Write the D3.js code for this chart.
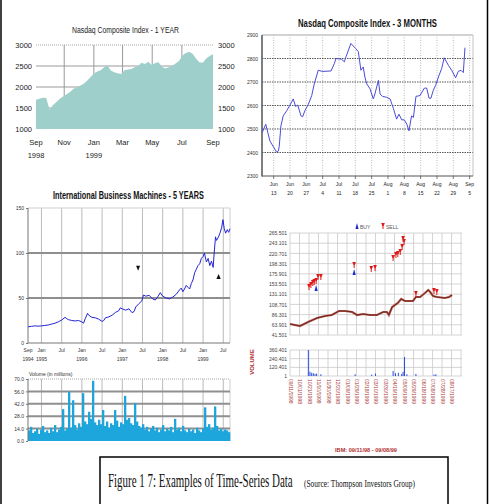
<!DOCTYPE html>
<html>
<head>
<meta charset="utf-8">
<script src="https://cdn.jsdelivr.net/npm/d3@7"></script>
<style>
  body { margin: 0; background: #fff; }
  svg { display: block; font-family: "Liberation Sans", Arial, sans-serif; }
</style>
</head>
<body>
<svg id="chart" width="490" height="504"></svg>
<script>
// ---------- data: Nasdaq 1 year (weekly closes from Sep 4 1998) ----------
const nasdaq1yValues = [1695,1720,1745,1740,1460,1570,1640,1720,1775,1830,1880,1960,1990,2030,2080,2150,2230,2320,2370,2400,2470,2510,2390,2350,2330,2310,2400,2415,2430,2470,2500,2580,2550,2600,2525,2570,2590,2480,2440,2470,2500,2560,2620,2750,2810,2840,2790,2680,2590,2580,2680,2740,2780];
const nasdaq1yTicks = [3000, 2500, 2000, 1500, 1000];
const nasdaq1yMonthDates = ["1998-09-04","1998-11-01","1999-01-01","1999-03-01","1999-05-01","1999-07-01","1999-09-03"];
const nasdaq1yMonthLabels = ["Sep","Nov","Jan","Mar","May","Jul","Sep"];
const nasdaq1yYearLabels = ["1998","","1999","","","",""];

// ---------- data: Nasdaq 3 months (days after Jun 8 1999) ----------
const nasdaq3mDay = [0.1,1.6,3.4,6.3,7.0,7.4,8.1,9.1,10.6,12,13.4,14.4,15.3,16.7,17.4,18.4,19.9,21.3,22.4,24.1,25.9,29.6,31,31.7,34.1,35.3,36,38.1,40.1,41.3,42.4,43.4,44.1,44.9,46.3,47.7,48.4,49.9,50.6,51.6,53.4,54.9,56.3,57.7,58.7,59.9,61,62.1,63,64.1,64.9,66,67.7,68.4,69.6,70.6,71.6,72.4,73.4,74.4,75.6,77,78.1,79.9,81.3,83,84.1,85.3,86.3,87];
const nasdaq3mValue = [2485,2520,2449,2401,2406,2427,2513,2556,2578,2602,2628,2596,2602,2556,2552,2578,2606,2642,2692,2750,2745,2747,2778,2800,2797,2786,2807,2864,2843,2829,2750,2764,2721,2692,2671,2628,2649,2707,2649,2639,2635,2628,2588,2542,2563,2539,2539,2520,2492,2556,2549,2639,2642,2654,2674,2674,2631,2631,2664,2685,2721,2757,2803,2771,2750,2718,2745,2750,2740,2846];
const nasdaq3mTicks = [2900, 2800, 2700, 2600, 2500, 2400, 2300];
const nasdaq3mTickDay = [5,12,19,26,33,40,47,54,61,68,75,82,89];
const nasdaq3mTickMonth = ["Jun","Jun","Jun","Jul","Jul","Jul","Jul","Aug","Aug","Aug","Aug","Aug","Sep"];
const nasdaq3mTickDate = ["13","20","27","4","11","18","25","1","8","15","22","29","5"];

// ---------- data: IBM 5 years (months after Sep 1994) ----------
const ibmMonth = [0,1,2,3,4,5,6,7,8,9,10,11,11.5,12,13,14,15,16,16.5,17,17.7,18,19,20,21,22,22.5,23,24,25,26,27,27.4,28,29,30,30.9,31.5,32,33,33.8,34.3,35,36,37,37.8,38.5,39.3,40,41,42,43,44,45,45.5,46,46.5,47,47.5,48,48.5,49,49.5,50,50.5,51,51.5,52,52.4,52.8,53,53.5,54,54.5,55,55.3,55.7,56,56.5,57,57.5,57.9,58.3,58.7,59.2,59.6,60];
const ibmPrice = [18,18.5,19,18.7,19,19.5,20,21,22,23.5,25.5,28.5,27,26,25,24.5,25,23.5,22,27,33,31,28.5,28,26.5,24,25,28,29,31,34,36,39,38,36.5,38,33.7,35,40,44,46.7,53.3,52,53,49,47.8,51,56,52,50,49,51,54,59,61,57,60,64,62,60,66,70,78,82,86,88,94,96,100,93,90,94,86,91,84,100,118,114,117,122,128,137,127,122,126,123,127];
const ibmPriceTicks = [150, 100, 50, 0];
const ibmTickMonth = [0,4,10,16,22,28,34,40,46,52,58];
const ibmTickLabel = ["Sep","Jan","Jul","Jan","Jul","Jan","Jul","Jan","Jul","Jan","Jul"];
const ibmTickYear = ["1994","1995","","1996","","1997","","1998","","1999",""];
const ibmSignalMonth = [32.7, 56.6];
const ibmSignalPrice = [83, 74];
const ibmSignalType = ["down", "up"];

// ---------- data: IBM volume (millions) ----------
const ibmVolume = [12,16,9,11,14,8,13,17,10,12,9,15,11,18,10,13,16,36,12,14,56,15,46,18,13,20,16,54,22,19,33,25,68,21,18,24,19,35,17,22,15,20,18,35,23,16,21,19,51,24,26,20,18,43,22,17,15,19,13,16,11,14,17,12,15,10,13,18,11,14,12,16,10,25,13,15,11,17,12,10,14,11,13,9,15,12,10,14,38,16,19,13,15,39,17,12,14,11,13,12,10];
const ibmVolumeTicks = [70, 56, 42, 28, 14, 0];

// ---------- data: IBM 1 year with signals (days after Sep 11 1998) ----------
const ibm1yDay = [0,21,38,57,74,88,103,116,131,141,154,168,183,196,204,208,215,227,234,242,259,265,274,284,291,295,301,309,326,335,341];
const ibm1yClose = [65.7,61.3,70,78.8,83.2,85.4,94.2,94.2,92,85.4,87.6,85.4,85.4,92,92,85.4,103,111.8,120.6,116.2,116.2,125,125,133.7,140.3,135.9,127.2,125,122.8,125,129.3];
const sellDay = [40,44,48,51,55,59,65,135,171,179,217,223,227,232,236,238,240,265,303,309];
const sellPrice = [146.9,151.3,155.7,157.9,160.1,168.9,168.9,195.2,186.4,188.6,210.6,217.2,219.4,223.8,234.7,252.3,245.7,131.5,138.1,135.9];
const buyDay = [55,135];
const buyPrice = [144.7,179.8];
const ibm1yTicks = [41.501,63.901,86.301,108.701,131.101,153.501,175.901,198.301,220.701,243.101,265.501];
const ibm1yTickDay = [0,20,40,60,80,100,120,140,160,180,200,220,240,260,280,300,320,340];
const ibm1yTickLabel = ["09/11/1998","10/01/1998","10/21/1998","11/10/1998","11/30/1998","12/20/1998","01/09/1999","01/29/1999","02/18/1999","03/10/1999","03/30/1999","04/19/1999","05/09/1999","05/29/1999","06/18/1999","07/08/1999","07/28/1999","08/17/1999"];
const ibm1yVolDay = [38.6,42,45.6,49,52.6,56,65,137,172,180,217,222,228,235,238,241,246,265,303,307];
const ibm1yVolume = [360,60,45,40,30,35,25,25,20,35,70,40,45,30,60,265,25,30,20,25];
const ibm1yVolTicks = [360.401, 240.401, 120.401, 1];

const svg = d3.select("#chart");
svg.append("rect").attr("width", 490).attr("height", 504).attr("fill", "#fff");

// helpers for simple lines
function hline(g, y, xa, xb, color, w, dash) {
  g.append("line").attr("x1", xa).attr("x2", xb).attr("y1", y).attr("y2", y)
    .attr("stroke", color).attr("stroke-width", w).attr("stroke-dasharray", dash || null);
}
function vline(g, x, ya, yb, color, w, dash) {
  g.append("line").attr("x1", x).attr("x2", x).attr("y1", ya).attr("y2", yb)
    .attr("stroke", color).attr("stroke-width", w).attr("stroke-dasharray", dash || null);
}
// squeeze a text horizontally so it spans `width` px (the originals use a narrow face)
function narrowText(g, str, cx, y, width, size, opts) {
  opts = opts || {};
  const t = g.append("text").attr("font-size", size)
    .attr("font-weight", opts.weight || null)
    .attr("font-family", opts.family || null)
    .attr("fill", opts.fill || "#111")
    .attr("text-anchor", opts.anchor || "middle")
    .text(str);
  const len = t.node().getComputedTextLength();
  t.attr("transform", `translate(${cx},${y}) scale(${width / len},1)`);
  return t;
}

// page side rules
vline(svg, 1, 0, 504, "#000", 1.5);
vline(svg, 487.5, 0, 504, "#000", 1.5);

// ================= Nasdaq 1 YEAR =================
const g1 = svg.append("g");
const x1 = d3.scaleTime().domain([new Date(1998, 8, 4), new Date(1999, 8, 3)]).range([36, 213]);
const y1 = d3.scaleLinear().domain([1000, 3000]).range([129, 45]);
const n1Dates = nasdaq1yValues.map((v, i) => d3.timeDay.offset(new Date(1998, 8, 4), i * 7));
const n1TickDates = nasdaq1yMonthDates.map(d => d3.timeParse("%Y-%m-%d")(d));

nasdaq1yTicks.slice(1, 4).forEach(v => hline(g1, y1(v), 36, 213, "#9a9a9a", 1));
hline(g1, y1(3000), 36, 213, "#aaa", 1, "1,1");
n1TickDates.slice(1, 6).forEach(d => vline(g1, x1(d), 45, 129, "#9a9a9a", 1));

g1.append("path")
  .datum(nasdaq1yValues)
  .attr("fill", "#9fcfcb")
  .attr("d", d3.area()
    .x((d, i) => x1(n1Dates[i]))
    .y0(y1(1000))
    .y1(d => y1(d)));

const ax1L = g1.append("g").attr("transform", "translate(36,0)")
  .call(d3.axisLeft(y1).tickValues(nasdaq1yTicks).tickSize(0).tickPadding(4).tickFormat(d3.format("d")));
const ax1R = g1.append("g").attr("transform", "translate(213,0)")
  .call(d3.axisRight(y1).tickValues(nasdaq1yTicks).tickSize(0).tickPadding(5).tickFormat(d3.format("d")));
[ax1L, ax1R].forEach(a => {
  a.select(".domain").remove();
  a.selectAll("text").attr("font-size", 7.5).attr("fill", "#222")
    .attr("font-family", "Liberation Sans, Arial, sans-serif");
});

g1.selectAll(".m1").data(nasdaq1yMonthLabels).join("text")
  .attr("x", (d, i) => x1(n1TickDates[i])).attr("y", 145)
  .attr("text-anchor", "middle").attr("font-size", 7.5).attr("fill", "#222").text(d => d);
g1.selectAll(".yr1").data(nasdaq1yYearLabels).join("text")
  .attr("x", (d, i) => x1(n1TickDates[i])).attr("y", 158)
  .attr("text-anchor", "middle").attr("font-size", 7.5).attr("fill", "#222").text(d => d);

narrowText(g1, "Nasdaq Composite Index - 1 YEAR", 125.5, 33, 107, 8.5, { fill: "#222" });

// ================= Nasdaq 3 MONTHS =================
const g2 = svg.append("g");
const x2 = d3.scaleLinear().domain([0, 90.44]).range([262, 473]);
const y2 = d3.scaleLinear().domain([2300, 2900]).range([176, 35]);

nasdaq3mTickDay.forEach(d => vline(g2, x2(d), 35, 176, "#aaa", 0.8, "1,1.5"));
nasdaq3mTicks.slice(1, 6).forEach(v => hline(g2, y2(v), 262, 473, "#555", 1, "1.5,1"));
hline(g2, y2(2900), 262, 473, "#c4c4c4", 1.5);
vline(g2, 473, 35, 176, "#c4c4c4", 1);
vline(g2, 262, 35, 176.5, "#555", 1.5);
hline(g2, 176, 262, 473, "#555", 1.2);
nasdaq3mTickDay.forEach(d => vline(g2, x2(d), 176, 179, "#555", 0.8));

g2.append("path")
  .datum(nasdaq3mValue)
  .attr("fill", "none").attr("stroke", "#4b4bd6").attr("stroke-width", 1)
  .attr("d", d3.line().x((d, i) => x2(nasdaq3mDay[i])).y(d => y2(d)));

const ax2 = g2.append("g").attr("transform", "translate(262,0)")
  .call(d3.axisLeft(y2).tickValues(nasdaq3mTicks).tickSize(0).tickPadding(4).tickFormat(d3.format("d")));
ax2.select(".domain").remove();
ax2.selectAll("text").attr("font-size", 5).attr("fill", "#333");

g2.selectAll(".m2").data(nasdaq3mTickMonth).join("text")
  .attr("x", (d, i) => x2(nasdaq3mTickDay[i])).attr("y", 186)
  .attr("text-anchor", "middle").attr("font-size", 5).attr("fill", "#222").text(d => d);
g2.selectAll(".d2").data(nasdaq3mTickDate).join("text")
  .attr("x", (d, i) => x2(nasdaq3mTickDay[i])).attr("y", 195)
  .attr("text-anchor", "middle").attr("font-size", 5).attr("fill", "#222").text(d => d);

narrowText(g2, "Nasdaq Composite Index - 3 MONTHS", 367.5, 27, 139, 11, { weight: "bold" });

// ================= IBM 5 YEARS =================
const g3 = svg.append("g");
const x3 = d3.scaleLinear().domain([0, 60]).range([28, 230]);
const y3 = d3.scaleLinear().domain([0, 150]).range([343, 208]);

ibmTickMonth.slice(1).forEach(m => vline(g3, x3(m), 208, 343, "#a8a8a8", 0.8));
hline(g3, y3(150), 28, 230, "#cfcfcf", 1);
vline(g3, 230, 208, 343, "#cfcfcf", 1);
[100, 50].forEach(v => hline(g3, y3(v), 28, 230, "#8f8f8f", 2));
vline(g3, 28, 208, 343, "#777", 1);
hline(g3, 343, 28, 230, "#777", 1);

g3.append("path")
  .datum(ibmPrice)
  .attr("fill", "none").attr("stroke", "#2424d4").attr("stroke-width", 1)
  .attr("d", d3.line().x((d, i) => x3(ibmMonth[i])).y(d => y3(d)));

g3.selectAll(".sig").data(ibmSignalType).join("path")
  .attr("transform", (d, i) => `translate(${x3(ibmSignalMonth[i])},${y3(ibmSignalPrice[i])})`)
  .attr("d", d => d === "down" ? "M-2,-2.5L2,-2.5L0,2.5Z" : "M-2.2,2.5L2.2,2.5L0,-2.5Z")
  .attr("fill", "#111");

const ax3 = g3.append("g").attr("transform", "translate(28,0)")
  .call(d3.axisLeft(y3).tickValues(ibmPriceTicks).tickSize(2).tickPadding(2));
ax3.select(".domain").remove();
ax3.selectAll("line").attr("stroke", "#777");
ax3.selectAll("text").attr("font-size", 5).attr("fill", "#333");

g3.selectAll(".m3").data(ibmTickLabel).join("text")
  .attr("x", (d, i) => x3(ibmTickMonth[i])).attr("y", 352)
  .attr("text-anchor", "middle").attr("font-size", 5).attr("fill", "#333").text(d => d);
g3.selectAll(".y3").data(ibmTickYear).join("text")
  .attr("x", (d, i) => x3(ibmTickMonth[i])).attr("y", 361)
  .attr("text-anchor", "middle").attr("font-size", 5).attr("fill", "#333").text(d => d);

narrowText(g3, "International Business Machines - 5 YEARS", 128.5, 199, 151, 11, { weight: "bold" });

// ================= IBM volume =================
const g4 = svg.append("g");
const y4 = d3.scaleLinear().domain([0, 70]).range([441, 379]);
const xb4 = d3.scaleBand().domain(d3.range(ibmVolume.length)).range([28, 230]).padding(0);

ibmTickMonth.slice(1).forEach(m => vline(g4, x3(m), 379, 441, "#a8a8a8", 0.8));
hline(g4, y4(70), 28, 230, "#aaa", 1, "1,1");
vline(g4, 230, 379, 441, "#cfcfcf", 1);
[56, 42, 28, 14].forEach(v => hline(g4, y4(v), 28, 230, "#8f8f8f", 2));

g4.selectAll(".vb").data(ibmVolume).join("rect")
  .attr("x", (d, i) => xb4(i)).attr("width", xb4.bandwidth() + 0.3)
  .attr("y", d => y4(d)).attr("height", d => y4(0) - y4(d))
  .attr("fill", "#1ca6dc");

vline(g4, 28, 379, 441, "#777", 1);
const ax4 = g4.append("g").attr("transform", "translate(28,0)")
  .call(d3.axisLeft(y4).tickValues(ibmVolumeTicks).tickSize(2).tickPadding(2).tickFormat(d3.format(".1f")));
ax4.select(".domain").remove();
ax4.selectAll("line").attr("stroke", "#777");
ax4.selectAll("text").attr("font-size", 5).attr("fill", "#333");
g4.append("text").attr("x", 29).attr("y", 376).attr("font-size", 5).attr("fill", "#333")
  .text("Volume (in millions)");

// ================= IBM 1 year with buy/sell signals =================
const g5 = svg.append("g");
const x5 = d3.scaleLinear().domain([0, 362]).range([290, 462]);
const y5 = d3.scaleLinear().domain([41.501, 265.501]).range([335, 233]);
const y5v = d3.scaleLinear().domain([1, 360.401]).range([376, 350]);

ibm1yTicks.forEach(v => hline(g5, y5(v), 290, 462, "#c9c9c9", 0.8));
ibm1yTickDay.concat([360]).forEach(d => vline(g5, x5(d), 233, 335, "#c9c9c9", 0.8));
ibm1yVolTicks.forEach(v => hline(g5, y5v(v), 290, 462, "#c9c9c9", 0.8));
ibm1yTickDay.concat([360]).forEach(d => vline(g5, x5(d), 350, 376, "#c9c9c9", 0.8));

const line5 = d3.line().x((d, i) => x5(ibm1yDay[i])).y(d => y5(d));
g5.append("path").datum(ibm1yClose).attr("fill", "none")
  .attr("stroke", "#b45a50").attr("stroke-width", 2.2).attr("d", line5);
g5.append("path").datum(ibm1yClose).attr("fill", "none")
  .attr("stroke", "#5a1410").attr("stroke-width", 0.8).attr("d", line5);

g5.selectAll(".sell").data(sellPrice).join("path")
  .attr("transform", (d, i) => `translate(${x5(sellDay[i])},${y5(d)})`)
  .attr("d", "M-1.8,-3L1.8,-3L0.5,0.5L0.5,3L-0.5,3L-0.5,0.5Z")
  .attr("fill", "#e01818");
g5.selectAll(".buy").data(buyPrice).join("path")
  .attr("transform", (d, i) => `translate(${x5(buyDay[i])},${y5(d)})`)
  .attr("d", "M-1.6,3L1.6,3L0,-3Z")
  .attr("fill", "#1c2ad0");

g5.selectAll(".vol5").data(ibm1yVolume).join("rect")
  .attr("x", (d, i) => x5(ibm1yVolDay[i]) - 0.5).attr("width", 1)
  .attr("y", d => y5v(d)).attr("height", d => y5v(1) - y5v(d))
  .attr("fill", "#2f4ee0");

const ax5 = g5.append("g").attr("transform", "translate(290,0)")
  .call(d3.axisLeft(y5).tickValues(ibm1yTicks).tickSize(0).tickPadding(3).tickFormat(d3.format(".3f")));
const ax5v = g5.append("g").attr("transform", "translate(290,0)")
  .call(d3.axisLeft(y5v).tickValues(ibm1yVolTicks).tickSize(0).tickPadding(3)
    .tickFormat(d => d === 1 ? "1" : d3.format(".3f")(d)));
[ax5, ax5v].forEach(a => {
  a.select(".domain").remove();
  a.selectAll("text").attr("font-size", 5).attr("fill", "#444");
});

g5.selectAll(".xl5").data(ibm1yTickLabel).join("text")
  .attr("transform", (d, i) => `translate(${x5(ibm1yTickDay[i]) - 1.5},379) rotate(90)`)
  .attr("font-size", 5).attr("fill", "#a83a3a").text(d => d);

// legend
g5.append("path").attr("transform", "translate(357,226)").attr("d", "M-1.6,3L1.6,3L0,-3Z").attr("fill", "#1c2ad0");
g5.append("text").attr("x", 360).attr("y", 228.5).attr("font-size", 5).attr("fill", "#555").text("BUY");
g5.append("path").attr("transform", "translate(383,226)")
  .attr("d", "M-1.8,-3L1.8,-3L0.5,0.5L0.5,3L-0.5,3L-0.5,0.5Z").attr("fill", "#e01818");
g5.append("text").attr("x", 386).attr("y", 228.5).attr("font-size", 5).attr("fill", "#555").text("SELL");

g5.append("text").attr("transform", "translate(254,362) rotate(-90)")
  .attr("text-anchor", "middle").attr("font-size", 6).attr("font-weight", "bold")
  .attr("fill", "#b03030").text("VOLUME");

narrowText(g5, "IBM:   09/11/98 - 09/08/99", 366, 452, 62, 6, { weight: "bold", fill: "#b03030" });

// ================= caption box =================
svg.append("rect").attr("x", 100).attr("y", 457).attr("width", 348).attr("height", 60)
  .attr("fill", "none").attr("stroke", "#000").attr("stroke-width", 1.5);
const serif = "Liberation Serif, Times New Roman, serif";
narrowText(svg, "Figure 1 7: Examples of Time-Series Data", 108, 487, 185, 18, { family: serif, anchor: "start" });
narrowText(svg, "(Source: Thompson Investors Group)", 304, 487, 111, 11, { family: serif, anchor: "start" });
</script>
</body>
</html>
